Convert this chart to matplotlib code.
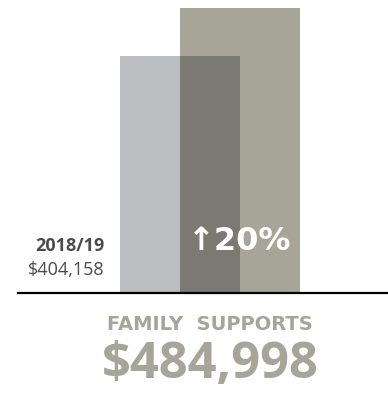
import matplotlib.pyplot as plt

# valores do gráfico
anos = ["2018/19", "2019/20"]
valores = [404158, 484998]
variacao = "↑20%"
titulo = "FAMILY  SUPPORTS"

COR_ANTERIOR = "#bcbdc0"
COR_ATUAL = "#a6a598"
COR_SOBREPOSTA = "#7a7a72"
COR_TEXTO = "#4a4a4a"

plt.rcParams["font.family"] = ["Open Sans", "DejaVu Sans"]

fig = plt.figure(figsize=(3.88, 3.93), dpi=100)
ax = fig.add_axes([0, 0, 1, 1])

# escala: 1 unidade em x = largura de uma barra (120 px)
px_y = valores[1] / 285
ax.set_xlim(-1.5, 208 / 120)
ax.set_ylim(-100 * px_y, 293 * px_y)
ax.axis("off")

posicoes = [0, 0.5]
ax.bar(posicoes[0], valores[0], width=1, color=COR_ANTERIOR, zorder=1)
ax.bar(posicoes[1], valores[1], width=1, color=COR_ATUAL, zorder=2)
# trecho em que as duas barras se cruzam
ax.bar((posicoes[0] + posicoes[1]) / 2, min(valores), width=0.5,
       color=COR_SOBREPOSTA, zorder=3)

# linha de base
ax.axhline(0, xmin=18 / 388, xmax=1, color="black", linewidth=1.6, zorder=4)

# rótulo do ano anterior
ax.text(-0.63, 47 * px_y, anos[0], ha="right", va="center",
        fontsize=13, fontweight="bold", color=COR_TEXTO)
ax.text(-0.63, 23 * px_y, f"${valores[0]:,}", ha="right", va="center",
        fontsize=13, color=COR_TEXTO)

# variação percentual
ax.text(0.5, 51 * px_y, variacao, ha="center", va="center",
        fontsize=23, fontweight="bold", color="white", zorder=5,
        family=["DejaVu Sans"])

# título e valor atual
fig.text(210 / 388, 1 - 325 / 393, titulo, ha="center", va="center",
         fontsize=14, fontweight="bold", color=COR_ATUAL,
         family=["DejaVu Sans"])
fig.text(210 / 388, 1 - 365 / 393, f"${valores[1]:,}", ha="center", va="center",
         fontsize=36.5, fontweight="bold", color=COR_ATUAL)

fig.savefig("out.png", dpi=100)
